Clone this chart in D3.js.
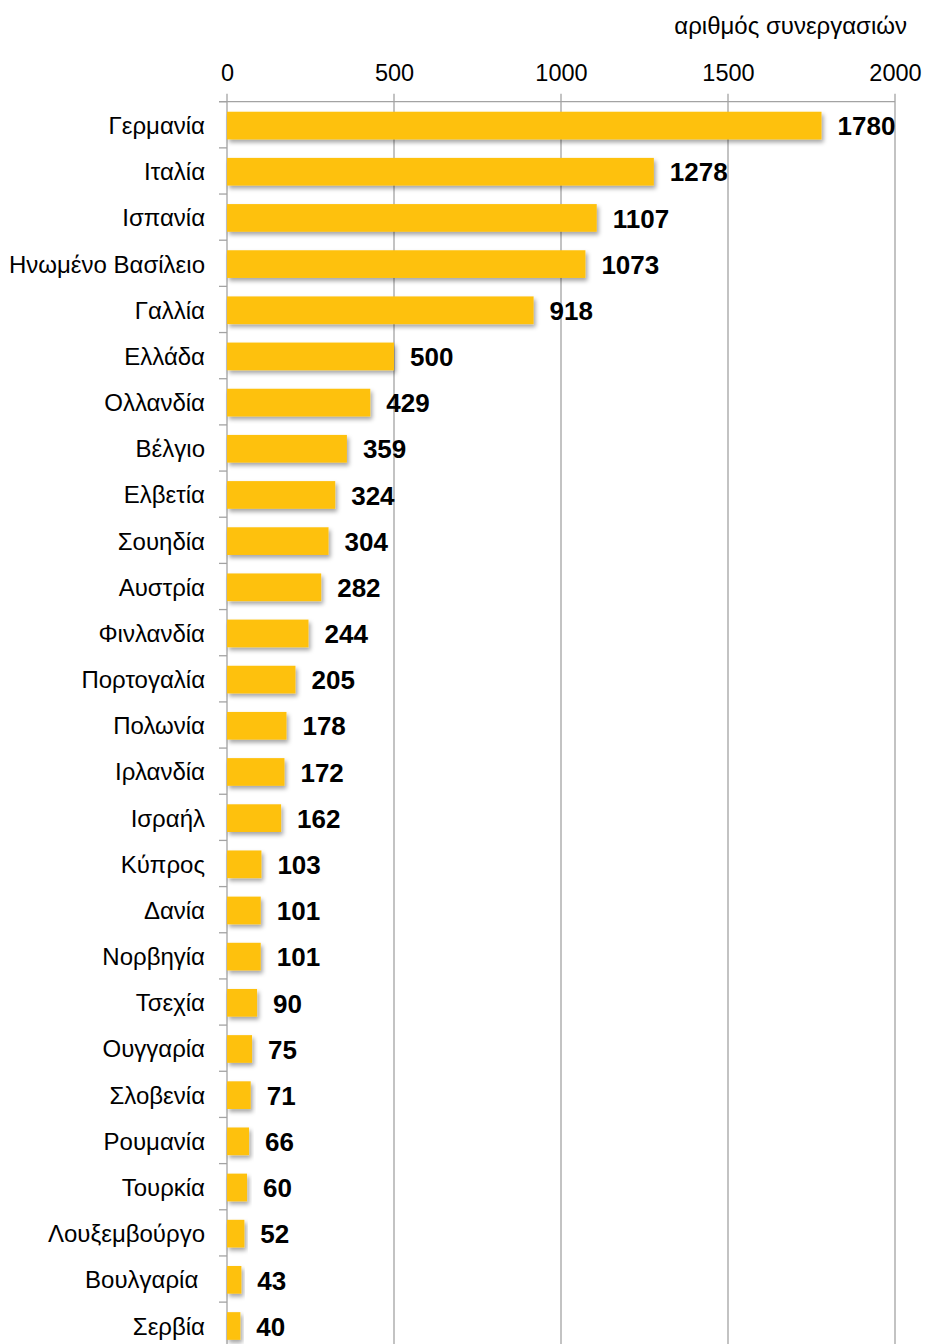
<!DOCTYPE html>
<html><head><meta charset="utf-8">
<script src="https://cdn.jsdelivr.net/npm/d3@7/dist/d3.min.js"></script>
<style>
body{margin:0;background:#fff;}
svg{display:block;font-family:"Liberation Sans",Arial,sans-serif;}
</style></head>
<body>
<script>
const categories = ["Γερμανία","Ιταλία","Ισπανία","Ηνωμένο Βασίλειο","Γαλλία","Ελλάδα","Ολλανδία","Βέλγιο","Ελβετία","Σουηδία","Αυστρία","Φινλανδία","Πορτογαλία","Πολωνία","Ιρλανδία","Ισραήλ","Κύπρος","Δανία","Νορβηγία","Τσεχία","Ουγγαρία","Σλοβενία","Ρουμανία","Τουρκία","Λουξεμβούργο","Βουλγαρία ","Σερβία"];
const values = [1780,1278,1107,1073,918,500,429,359,324,304,282,244,205,178,172,162,103,101,101,90,75,71,66,60,52,43,40];
const tickValues = [0,500,1000,1500,2000];
const axisTitle = "αριθμός συνεργασιών";

const W = 925, H = 1344;
const x0 = 227, x1 = 895, y0 = 101.7, step = 46.17;
const svg = d3.select("body").append("svg").attr("width", W).attr("height", H);

const defs = svg.append("defs");
const f = defs.append("filter").attr("id","sh").attr("x","-10%").attr("y","-30%").attr("width","130%").attr("height","180%");
f.append("feDropShadow").attr("dx",2).attr("dy",3).attr("stdDeviation",2).attr("flood-color","#000").attr("flood-opacity",0.35);

const x = d3.scaleLinear().domain([0,2000]).range([x0,x1]);
const y = d3.scaleBand().domain(categories).range([y0, y0 + step*categories.length]).paddingInner(0.4).paddingOuter(0.2);

const gridColor = "#a3a3a3";
svg.append("g").selectAll("line").data(tickValues).join("line")
  .attr("x1", d => x(d)).attr("x2", d => x(d))
  .attr("y1", y0 - 8).attr("y2", H)
  .attr("stroke", gridColor).attr("stroke-width", 1.3);

const ax = svg.append("g").attr("transform", `translate(0,${y0})`)
  .call(d3.axisTop(x).tickValues(tickValues).tickSize(0).tickPadding(21).tickFormat(d3.format("d")));
ax.select(".domain").remove();
ax.selectAll("text").attr("font-size", 23.5).attr("fill", "#000").attr("font-family","Liberation Sans, Arial, sans-serif");

svg.append("line").attr("x1", x0 - 8).attr("x2", x1).attr("y1", y0).attr("y2", y0)
  .attr("stroke", gridColor).attr("stroke-width", 1.3);

svg.append("g").selectAll("line").data(d3.range(categories.length + 1)).join("line")
  .attr("x1", x0 - 8).attr("x2", x0)
  .attr("y1", i => y0 + i*y.step()).attr("y2", i => y0 + i*y.step())
  .attr("stroke", gridColor).attr("stroke-width", 1.3);

const data = categories.map((c,i) => ({c, v: values[i]}));
svg.append("g").selectAll("rect").data(data).join("rect")
  .attr("x", x(0)).attr("y", d => y(d.c) + 0.8)
  .attr("width", d => x(d.v) - x(0)).attr("height", y.bandwidth())
  .attr("fill", "#FEC10F").attr("filter","url(#sh)");

svg.append("g").selectAll("text").data(data).join("text")
  .attr("x", 205).attr("y", d => y(d.c) + y.bandwidth()/2 + 0.8)
  .attr("text-anchor","end").attr("dominant-baseline","central")
  .attr("font-size", 24).attr("fill","#000").style("white-space","pre")
  .text(d => d.c);

svg.append("g").selectAll("text").data(data).join("text")
  .attr("x", d => x(d.v) + 16).attr("y", d => y(d.c) + y.bandwidth()/2 + 1.5)
  .attr("dominant-baseline","central")
  .attr("font-size", 26).attr("font-weight","bold").attr("fill","#000")
  .text(d => d.v);

svg.append("text").attr("x", 907).attr("y", 34).attr("text-anchor","end")
  .attr("font-size", 24).attr("fill","#000").text(axisTitle);
</script>
</body></html>
